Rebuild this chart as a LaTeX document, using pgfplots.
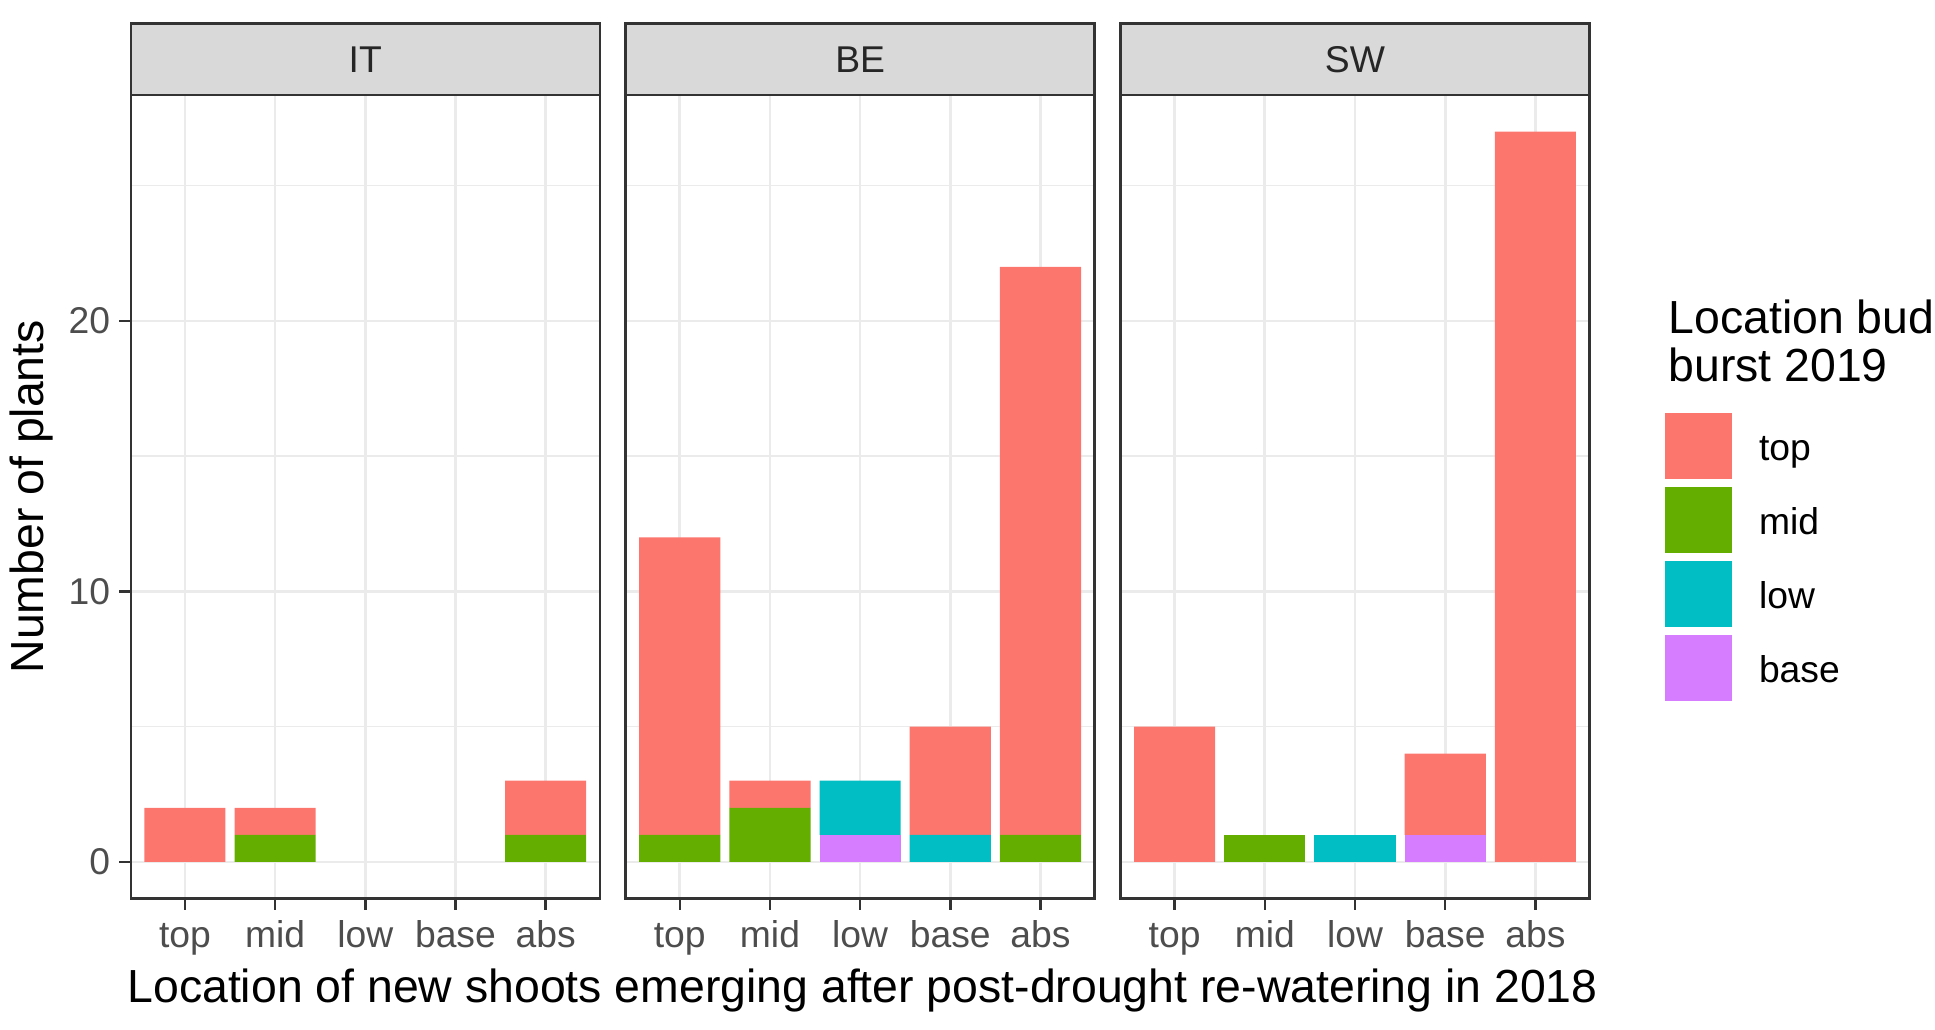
\documentclass[border=0pt]{standalone}
\usepackage{pgfplots}
\usepackage{pgfplotstable}
\pgfplotsset{compat=1.18}
\usepackage{fontspec}
\setmainfont{Liberation Sans}
\definecolor{ctop}{HTML}{FC766E}
\definecolor{cmid}{HTML}{64AE00}
\definecolor{clow}{HTML}{00BEC4}
\definecolor{cbase}{HTML}{D67DFF}
\definecolor{gridc}{HTML}{EBEBEB}
\definecolor{grey20}{HTML}{333333}
\definecolor{grey30}{HTML}{4D4D4D}
\definecolor{stripc}{HTML}{D9D9D9}

\pgfplotstableread{
x top mid low base
1 2 0 0 0
2 1 1 0 0
3 0 0 0 0
4 0 0 0 0
5 2 1 0 0
}\dataIT
\pgfplotstableread{
x top mid low base
1 11 1 0 0
2 1 2 0 0
3 0 0 2 1
4 4 0 1 0
5 21 1 0 0
}\dataBE
\pgfplotstableread{
x top mid low base
1 5 0 0 0
2 0 1 0 0
3 0 0 1 0
4 3 0 0 1
5 27 0 0 0
}\dataSW

\newcommand{\ticksize}{\fontsize{15.1}{17}\selectfont}
\newcommand{\titlesize}{\fontsize{18.8}{22}\selectfont}

\pgfplotsset{panel/.style={
  scale only axis, width=190pt, height=325.5pt,
  anchor=south west,
  xmin=0.4, xmax=5.6, ymin=-1.35, ymax=28.35,
  ybar stacked, bar width=0.9,
  xtick={1,2,3,4,5}, xticklabels={top,mid,low,base,abs},
  ytick={0,10,20}, minor ytick={5,15,25},
  grid=both,
  major grid style={color=gridc, line width=1.1pt},
  minor grid style={color=gridc, line width=0.55pt},
  tick align=outside, major tick length=4.7pt, minor tick length=0pt,
  xtick pos=bottom, ytick pos=left,
  tick style={color=grey20, line width=1pt},
  axis line style={color=grey20, line width=1pt},
  ticklabel style={font=\ticksize, text=grey30},
  xticklabel style={anchor=base, inner sep=0pt, yshift=-15.3pt},
  yticklabel style={anchor=east, inner sep=0pt, xshift=-3.5pt},
  /pgf/number format/assume math mode=true,
  every axis plot/.append style={draw=none},
}}

\newcommand{\stackplots}[1]{%
  \addplot[fill=cbase] table[x=x, y=base] {#1};
  \addplot[fill=clow] table[x=x, y=low] {#1};
  \addplot[fill=cmid] table[x=x, y=mid] {#1};
  \addplot[fill=ctop] table[x=x, y=top] {#1};
}

\begin{document}
\begin{tikzpicture}
\useasboundingbox (-53pt,-53pt) rectangle (731pt,364pt);
\begin{axis}[panel, at={(0pt,0pt)}]
\stackplots{\dataIT}
\end{axis}
\begin{axis}[panel, at={(200.5pt,0pt)}, yticklabels={}, ytick style={draw=none}]
\stackplots{\dataBE}
\end{axis}
\begin{axis}[panel, at={(401pt,0pt)}, yticklabels={}, ytick style={draw=none},
  reverse legend,
  legend style={at={(axis description cs:1.1605,0.6052)}, anchor=north west,
    draw=none, fill=none, inner sep=0pt, row sep=3pt, column sep=11pt,
    nodes={inner sep=0pt, anchor=base west, font=\ticksize, text=black}},
  legend cell align=left,
  legend image code/.code={\fill[#1] (0pt,-7.7pt) rectangle (27pt,19.3pt);}]
\stackplots{\dataSW}
\legend{base,low,mid,top}
\end{axis}
% facet strips
\foreach \x/\lab in {0/IT,200.5/BE,401/SW}{
  \draw[fill=stripc, draw=grey20, line width=1pt] (\x pt,325.5pt) rectangle (\x pt+190pt,354.5pt);
  \node[font=\ticksize, text=black!85] at (\x pt+95pt,340pt) {\lab};
}
% titles
\node[anchor=base, font=\titlesize] at (296.5pt,-42pt) {Location of new shoots emerging after post-drought re-watering in 2018};
\node[anchor=base, rotate=90, font=\titlesize] at (-35.5pt,162.75pt) {Number of plants};
\node[anchor=base west, font=\titlesize] at (619.5pt,229pt) {Location bud};
\node[anchor=base west, font=\titlesize] at (619.5pt,209.5pt) {burst 2019};
\end{tikzpicture}
\end{document}
